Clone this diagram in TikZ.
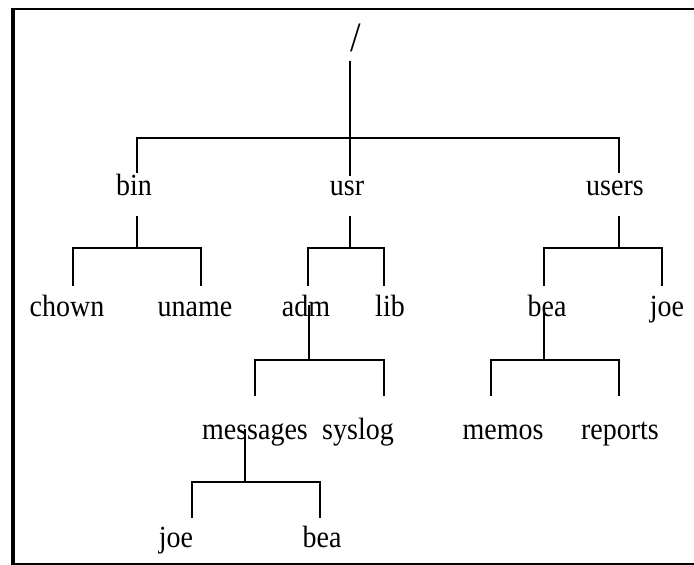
\documentclass[tikz,border=0pt]{standalone}
\usepackage{fontspec}
\setmainfont{Liberation Serif}
\newcommand{\tallt}[1]{\scalebox{1}[1.1]{#1}}
\begin{document}
\begin{tikzpicture}[x=1pt,y=-1pt,
  lbl/.style={anchor=base,inner sep=0pt,font=\fontsize{28}{32}\selectfont},
  edge/.style={line width=1.4pt,line cap=rect,black},
  frame/.style={line width=3pt,black}]
\useasboundingbox (0,0) rectangle (694,565);
% frame
\draw[frame,line width=4pt] (13,8) -- (13,565);
\draw[frame,line width=2.6pt] (12,9) -- (694,9);
\draw[frame,line width=2pt] (12,564) -- (694,564);
% labels
\node[anchor=base,inner sep=0pt,font=\fontsize{38}{40}\selectfont] (root) at (356,51) {\scalebox{1}[1.1]{/}};
\node[lbl] (bin) at (134,195) {\tallt{bin}};
\node[lbl] (usr) at (347,195) {\tallt{usr}};
\node[lbl] (users) at (615,195) {\tallt{users}};
\node[lbl] (chown) at (67,316) {\tallt{chown}};
\node[lbl] (uname) at (195,316) {\tallt{uname}};
\node[lbl] (adm) at (306,316) {\tallt{adm}};
\node[lbl] (lib) at (390,316) {\tallt{lib}};
\node[lbl] (bea1) at (547,316) {\tallt{bea}};
\node[lbl] (joe1) at (667,316) {\tallt{joe}};
\node[lbl] (messages) at (255,439) {\tallt{messages}};
\node[lbl] (syslog) at (358,439) {\tallt{syslog}};
\node[lbl] (memos) at (503,439) {\tallt{memos}};
\node[lbl] (reports) at (620,439) {\tallt{reports}};
\node[lbl] (joe2) at (176,547) {\tallt{joe}};
\node[lbl] (bea2) at (322,547) {\tallt{bea}};
% coordinates
\coordinate (r0) at (350,62);
\coordinate (usrtop) at (350,175);
\coordinate (b0L) at (137,138); \coordinate (b0R) at (619,138);
\coordinate (bintop) at (137,172); \coordinate (userstop) at (619,172);
% bin
\coordinate (bins) at (137,217); \coordinate (binj) at (137,248);
\coordinate (chownt) at (73,285); \coordinate (unamet) at (201,285);
% usr
\coordinate (usrs) at (350,217); \coordinate (usrj) at (350,248);
\coordinate (admt) at (308,285); \coordinate (libt) at (384,285);
% users
\coordinate (userss) at (619,217); \coordinate (usersj) at (619,248);
\coordinate (bea1t) at (544,285); \coordinate (joe1t) at (662,285);
% adm
\coordinate (adms) at (309,306); \coordinate (admj) at (309,360);
\coordinate (messagest) at (255,395); \coordinate (syslogt) at (384,395);
% bea
\coordinate (bea1s) at (544,310); \coordinate (bea1j) at (544,360);
\coordinate (memost) at (491,395); \coordinate (reportst) at (619,395);
% messages
\coordinate (messagess) at (245,430); \coordinate (messagesj) at (245,482);
\coordinate (joe2t) at (192,517); \coordinate (bea2t) at (320,517);
% edges
\draw[edge] (r0) -- (usrtop);
\draw[edge] (bintop) -- (b0L) -- (b0R) -- (userstop);
\draw[edge] (bins) -- (binj);
\draw[edge] (chownt) |- (binj) -| (unamet);
\draw[edge] (usrs) -- (usrj);
\draw[edge] (admt) |- (usrj) -| (libt);
\draw[edge] (userss) -- (usersj);
\draw[edge] (bea1t) |- (usersj) -| (joe1t);
\draw[edge] (adms) -- (admj);
\draw[edge] (messagest) |- (admj) -| (syslogt);
\draw[edge] (bea1s) -- (bea1j);
\draw[edge] (memost) |- (bea1j) -| (reportst);
\draw[edge] (messagess) -- (messagesj);
\draw[edge] (joe2t) |- (messagesj) -| (bea2t);
\end{tikzpicture}
\end{document}
